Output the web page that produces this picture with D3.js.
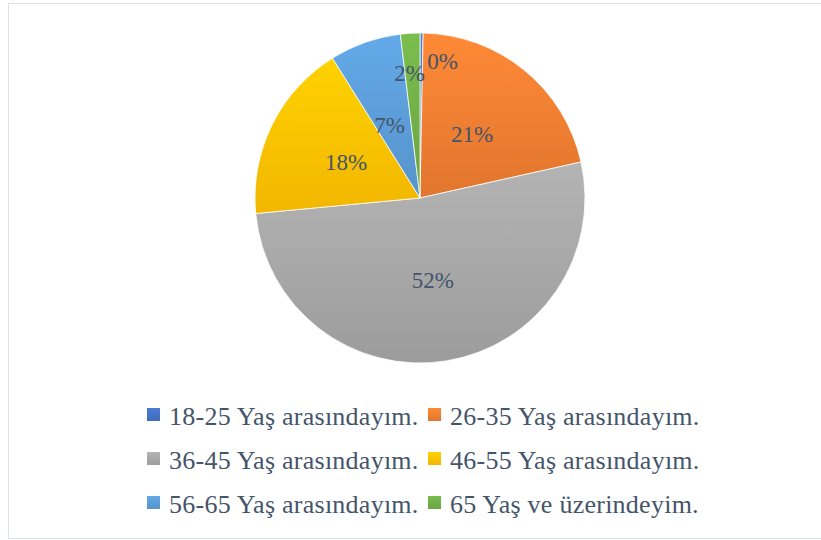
<!DOCTYPE html>
<html>
<head>
<meta charset="utf-8">
<script src="https://cdn.jsdelivr.net/npm/d3@7"></script>
<style>
  body { margin: 0; background: #fff; }
  svg { display: block; }
</style>
</head>
<body>
<div id="chart"></div>
<script>
var categories = ['18-25 Yaş arasındayım.', '26-35 Yaş arasındayım.', '36-45 Yaş arasındayım.',
                  '46-55 Yaş arasındayım.', '56-65 Yaş arasındayım.', '65 Yaş ve üzerindeyim.'];
var values = [0.3, 21.2, 52.0, 17.6, 7.0, 1.9];
var colors = ['#4472C4', '#ED7D31', '#A5A5A5', '#FFC000', '#5B9BD5', '#70AD47'];

var width = 821, height = 540,
    cx = 420, cy = 198, radius = 165;

var svg = d3.select('#chart')
  .append('svg')
  .attr('width', width)
  .attr('height', height);

// chart frame
svg.append('rect')
  .attr('x', 8.5).attr('y', 3.5)
  .attr('width', 830).attr('height', 535)
  .attr('fill', '#fff')
  .attr('stroke', '#dde1e8');

var defs = svg.append('defs');
colors.forEach(function(c, i) {
  var g = defs.append('linearGradient')
    .attr('id', 'grad' + i)
    .attr('x1', 0).attr('y1', 0).attr('x2', 0).attr('y2', 1);
  g.append('stop').attr('offset', '0%').attr('stop-color', d3.color(c).brighter(0.25));
  g.append('stop').attr('offset', '100%').attr('stop-color', d3.color(c).darker(0.15));
});

var data = categories.map(function(name, i) { return { name: name, value: values[i], i: i }; });
var total = d3.sum(values);

var pie = d3.pie().sort(null).value(function(d) { return d.value; });
var arc = d3.arc().innerRadius(0).outerRadius(radius);

var g = svg.append('g').attr('transform', 'translate(' + cx + ',' + cy + ')');

var arcs = pie(data);

g.selectAll('.slice')
  .data(arcs)
  .enter().append('path')
  .attr('class', 'slice')
  .attr('d', arc)
  .attr('fill', function(d) { return 'url(#grad' + d.data.i + ')'; })
  .attr('stroke', '#fff')
  .attr('stroke-width', 0.75);

function labelRadius(v) {
  if (v < 1) return radius * 0.83;
  if (v < 5) return radius * 0.76;
  return radius * 0.5;
}

g.selectAll('.label')
  .data(arcs)
  .enter().append('text')
  .attr('class', 'label')
  .attr('transform', function(d) {
    var r = labelRadius(d.data.value);
    var p = d3.arc().innerRadius(r).outerRadius(r).centroid(d);
    return 'translate(' + p[0] + ',' + p[1] + ')';
  })
  .attr('text-anchor', function(d) { return d.data.value < 1 ? 'start' : 'middle'; })
  .attr('dx', function(d) { return d.data.value < 1 ? 6 : (d.data.value < 10 ? -3 : 0); })
  .attr('dy', function(d) { return d.data.value < 10 && d.data.value > 5 ? '0.55em' : '0.35em'; })
  .style('font-family', '"Liberation Serif", "Times New Roman", serif')
  .style('font-size', '23px')
  .attr('fill', '#44546A')
  .text(function(d) { return Math.round(d.data.value / total * 100) + '%'; });

// legend
var colX = [147, 428], rowY = [408, 452, 496];
var legend = svg.selectAll('.legend')
  .data(data)
  .enter().append('g')
  .attr('class', 'legend')
  .attr('transform', function(d) {
    return 'translate(' + colX[d.i % 2] + ',' + rowY[Math.floor(d.i / 2)] + ')';
  });

legend.append('rect')
  .attr('width', 13).attr('height', 13)
  .attr('fill', function(d) { return 'url(#grad' + d.i + ')'; });

legend.append('text')
  .attr('x', 22).attr('y', 17)
  .style('font-family', '"Liberation Serif", "Times New Roman", serif')
  .style('font-size', '26px')
  .style('letter-spacing', '0.25px')
  .attr('fill', '#44546A')
  .text(function(d) { return d.name; });
</script>
</body>
</html>
